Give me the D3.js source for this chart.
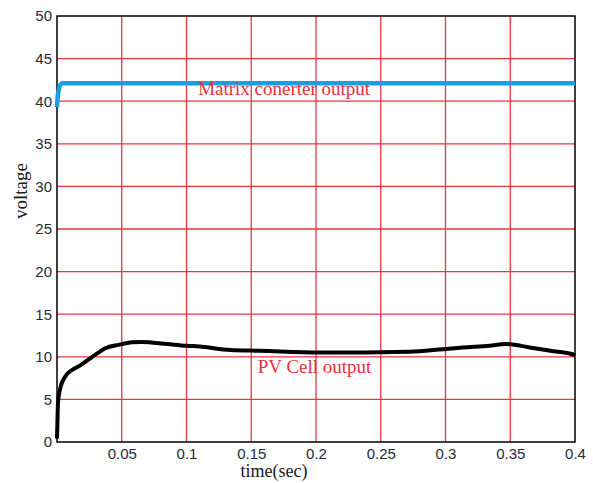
<!DOCTYPE html>
<html>
<head>
<meta charset="utf-8">
<script src="https://cdn.jsdelivr.net/npm/d3@7"></script>
<style>
  body { margin: 0; background: #fff; }
</style>
</head>
<body>
<svg id="chart" width="593" height="483"></svg>
<script>
// tick values
var xTicks = [0.05, 0.1, 0.15, 0.2, 0.25, 0.3, 0.35, 0.4]
var yTicks = [0, 5, 10, 15, 20, 25, 30, 35, 40, 45, 50]

// matrix converter output
var matrixTime = [0, 0.0003, 0.0008, 0.0015, 0.0025, 0.0039, 0.4]
var matrixVolt = [39.3, 40.1, 40.8, 41.4, 41.9, 42.1, 42.1]

// PV cell output
var pvTime = [0, 0.0002, 0.0008, 0.0025, 0.0064, 0.0116, 0.018, 0.0245, 0.031, 0.0373, 0.0476, 0.058, 0.0656, 0.085, 0.1, 0.11, 0.134, 0.157, 0.203, 0.272, 0.298, 0.313, 0.334, 0.347, 0.365, 0.381, 0.398, 0.4]
var pvVolt = [0.4, 1.6, 4.7, 6.3, 7.7, 8.45, 9.0, 9.7, 10.4, 11.0, 11.4, 11.7, 11.75, 11.5, 11.3, 11.2, 10.8, 10.7, 10.5, 10.6, 10.9, 11.1, 11.3, 11.5, 11.1, 10.7, 10.3, 10.2]

var margin = { top: 16, right: 18, bottom: 41, left: 57 },
    width = 593 - margin.left - margin.right,
    height = 483 - margin.top - margin.bottom;

var svg = d3.select('#chart')
var g = svg.append('g')
    .attr('transform', 'translate(' + margin.left + ',' + margin.top + ')')

var x = d3.scaleLinear().domain([0, 0.4]).range([0, width])
var y = d3.scaleLinear().domain([0, 50]).range([height, 0])

var gridColor = '#ee3344'

// vertical grid
g.selectAll('.vgrid')
    .data(xTicks.slice(0, -1))
    .enter().append('line')
    .attr('x1', function(d) { return x(d) })
    .attr('x2', function(d) { return x(d) })
    .attr('y1', 0).attr('y2', height)
    .style('stroke', gridColor).style('stroke-width', 1.3)

// horizontal grid
g.selectAll('.hgrid')
    .data(yTicks.slice(1, -1))
    .enter().append('line')
    .attr('x1', 0).attr('x2', width)
    .attr('y1', function(d) { return y(d) })
    .attr('y2', function(d) { return y(d) })
    .style('stroke', gridColor).style('stroke-width', 1.3)

// frame
g.append('rect')
    .attr('width', width).attr('height', height)
    .style('fill', 'none').style('stroke', '#000').style('stroke-width', 1.5)

// x axis labels
var xAxis = g.append('g')
    .attr('transform', 'translate(0,' + height + ')')
    .call(d3.axisBottom(x).tickValues(xTicks).tickSize(0).tickPadding(6).tickFormat(function(d) { return String(+d.toFixed(2)) }))
xAxis.select('.domain').remove()
xAxis.selectAll('text')
    .style('font-family', '"Liberation Sans", sans-serif')
    .style('font-size', '15px')
    .style('fill', '#262a3a')

// y axis labels
var yAxis = g.append('g')
    .call(d3.axisLeft(y).tickValues(yTicks).tickSize(0).tickPadding(5))
yAxis.select('.domain').remove()
yAxis.selectAll('text')
    .style('font-family', '"Liberation Sans", sans-serif')
    .style('font-size', '15px')
    .style('fill', '#262a3a')

// lines
var line = d3.line()
    .curve(d3.curveMonotoneX)
    .x(function(d) { return x(d[0]) })
    .y(function(d) { return y(d[1]) })

g.append('path')
    .datum(d3.zip(matrixTime, matrixVolt))
    .attr('d', line)
    .style('fill', 'none').style('stroke', '#14a0e2').style('stroke-width', 4.5)

g.append('path')
    .datum(d3.zip(pvTime, pvVolt))
    .attr('d', line)
    .style('fill', 'none').style('stroke', '#000').style('stroke-width', 4)
    .style('stroke-linejoin', 'round')

// series labels
g.append('text')
    .attr('x', x(0.109)).attr('y', y(40.7))
    .style('font-family', '"Liberation Serif", serif')
    .style('font-size', '19px')
    .style('fill', '#e8303c')
    .text('Matrix conerter output')

g.append('text')
    .attr('x', x(0.155)).attr('y', y(8.1))
    .style('font-family', '"Liberation Serif", serif')
    .style('font-size', '19px')
    .style('fill', '#e8303c')
    .text('PV Cell output')

// axis titles
svg.append('text')
    .attr('x', 274).attr('y', 477)
    .attr('text-anchor', 'middle')
    .style('font-family', '"Liberation Serif", serif')
    .style('font-size', '18px')
    .style('fill', '#1a1a1a')
    .text('time(sec)')

svg.append('text')
    .attr('transform', 'translate(27,191) rotate(-90)')
    .attr('text-anchor', 'middle')
    .style('font-family', '"Liberation Serif", serif')
    .style('font-size', '19px')
    .style('fill', '#1a1a1a')
    .text('voltage')
</script>
</body>
</html>
